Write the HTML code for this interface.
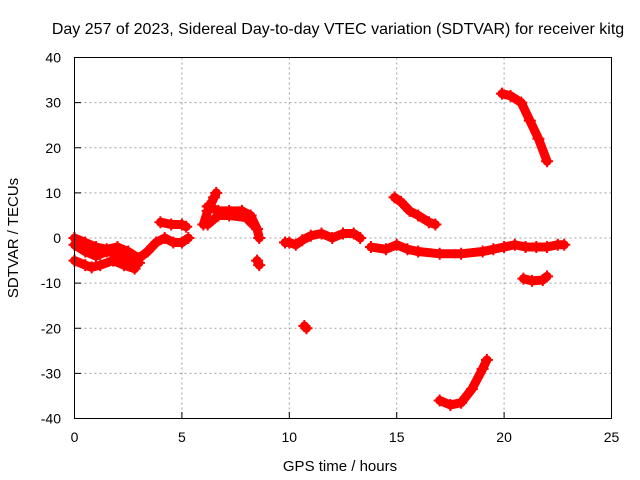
<!DOCTYPE html>
<html><head><meta charset="utf-8"><style>
body{margin:0;background:#fff}
svg{display:block;font-family:"Liberation Sans",sans-serif}
</style></head><body>
<svg id="c" width="640" height="480">
<text x="338" y="34" font-size="16" text-anchor="middle">Day 257 of 2023, Sidereal Day-to-day VTEC variation (SDTVAR) for receiver kitg</text>
<text x="340" y="471" font-size="15" text-anchor="middle">GPS time / hours</text>
<text transform="translate(18,238) rotate(-90)" font-size="15" text-anchor="middle">SDTVAR / TECUs</text>
<g id="grid"></g><g id="marks"></g>
<rect x="74.5" y="57.5" width="537" height="361" fill="none" stroke="#000"/>
</svg>
<script>
const xTicks=[0,5,10,15,20,25];
const yTicks=[40,30,20,10,0,-10,-20,-30,-40];
const t1=[[0,-5],[0.5,-6],[0.8,-6.5],[1.2,-6],[1.8,-5],[2.3,-6],[2.8,-6.8]];
const t2=[[0,0],[0.5,-1],[1,-2],[1.5,-2.5],[2,-2],[2.5,-3],[3,-4.5],[3.4,-3],[3.8,-1],[4.2,0],[4.6,-1],[5,-1],[5.3,0]];
const t2b=[[0,-1.5],[0.5,-3],[1,-4],[1.5,-3],[2,-3.5],[2.5,-4.5],[3,-5.5]];
const t3=[[4,3.5],[4.5,3],[5,3],[5.2,2.5]];
const t4=[[6.0,3],[6.2,6],[6.5,9],[6.6,10]];
const t4b=[[6.2,7],[6.7,6],[7.2,6],[7.8,6],[8.2,5],[8.5,2],[8.6,0]];
const t4c=[[6.2,3],[6.7,5],[7.2,5],[8,4.5],[8.3,3]];
const t5=[[8.5,-5],[8.6,-6]];
const t6=[[9.8,-1],[10,-1],[10.3,-1.5],[10.6,-0.5],[11,0.5],[11.5,1],[12,0],[12.5,1],[13,1],[13.3,0]];
const t7=[[10.7,-19.5],[10.8,-20]];
const t8=[[13.8,-2],[14.5,-2.5],[15,-1.5],[15.5,-2.5],[16,-3],[17,-3.5],[18,-3.5],[19,-3],[19.5,-2.5],[20,-2],[20.5,-1.5],[21,-2],[21.5,-2],[22,-2],[22.5,-1.5],[22.8,-1.5]];
const t9=[[14.9,9],[15.2,8],[15.6,6],[16,5],[16.5,3.5],[16.8,3]];
const t10=[[20.9,-9],[21.3,-9.5],[21.8,-9.3],[22,-8.5]];
const t11=[[17.0,-36],[17.5,-37],[18,-36.5],[18.5,-33.5],[19,-29],[19.2,-27]];
const t12=[[19.9,32],[20.3,31.5],[20.8,30],[21.2,26],[21.6,22],[22.0,17]];
const series=[t1,t2,t2b,t3,t4,t4b,t4c,t5,t6,t7,t8,t9,t10,t11,t12];
const X=v=>74.5+v/25*537, Y=v=>57.5+(40-v)/80*361;
const NS='http://www.w3.org/2000/svg';
const g=document.getElementById('grid'), m=document.getElementById('marks');
function mk(tag,p,parent){const e=document.createElementNS(NS,tag);for(const k in p)e.setAttribute(k,p[k]);parent.appendChild(e);return e;}
xTicks.forEach(t=>{const x=X(t);
 if(t>0&&t<25){const l=mk('line',{x1:x,x2:x,y1:57.5,y2:418.5,stroke:'#a0a0a0','stroke-dasharray':'2,3'},g);
 
 }
 const tk=mk('line',{x1:x,x2:x,y1:418.5,y2:412,stroke:'#000'},g);
 
 
 const tx=mk('text',{x:x,y:442,'font-size':14,'text-anchor':'middle'},g);tx.textContent=t;
 
 });
yTicks.forEach(t=>{const y=Y(t);
 if(t>-40&&t<40){const l=mk('line',{x1:74.5,x2:611.5,y1:y,y2:y,stroke:'#a0a0a0','stroke-dasharray':'2,3'},g);
 
 }
 const tk=mk('line',{x1:74.5,x2:81,y1:y,y2:y,stroke:'#000'},g);
 
 
 const tx=mk('text',{x:61,y:y+5,'font-size':14,'text-anchor':'end'},g);tx.textContent=t;
 
 });
series.forEach(s=>{
 const pl=mk('polyline',{points:s.map(p=>X(p[0])+','+Y(p[1])).join(' '),fill:'none',stroke:'#f00','stroke-width':9,'stroke-linejoin':'round','stroke-linecap':'round'},m);
 
 
 s.forEach(p=>{const x=X(p[0]),y=Y(p[1]);
  const c=mk('path',{d:`M${x-6},${y}H${x+6}M${x},${y-6}V${y+6}`,stroke:'#f00','stroke-width':2},m);
  
  });
});
</script>
</body></html>
